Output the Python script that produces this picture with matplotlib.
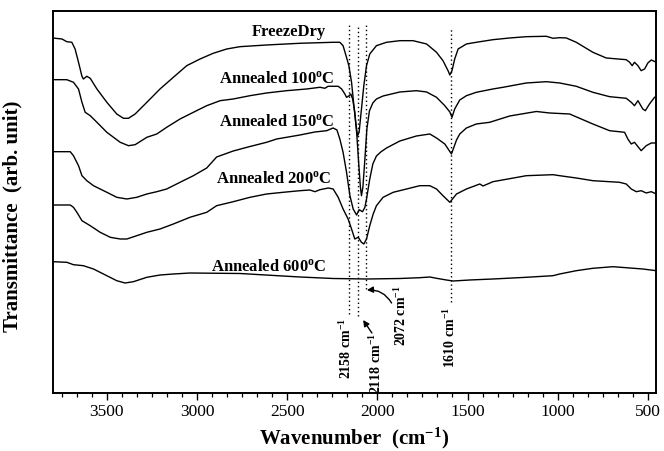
import matplotlib
matplotlib.use("Agg")
import matplotlib.pyplot as plt
from matplotlib.ticker import MultipleLocator, AutoMinorLocator

plt.rcParams['font.family'] = ['Liberation Serif', 'DejaVu Serif']
plt.rcParams['mathtext.fontset'] = 'custom'
plt.rcParams['mathtext.rm'] = 'Liberation Serif:bold'
plt.rcParams['mathtext.bf'] = 'Liberation Serif:bold'
plt.rcParams['mathtext.it'] = 'Liberation Serif:bold:italic'

# wavenumber (cm-1) and transmittance (arb. unit)
freeze_wn = [3797, 3786, 3749, 3722, 3694, 3676, 3657, 3638, 3630, 3611, 3592, 3555, 3500, 3445,
             3408, 3380, 3343, 3278, 3205, 3131, 3057, 2983, 2910, 2835, 2762, 2614, 2429, 2245,
             2208, 2190, 2171, 2158, 2143, 2130, 2119, 2110, 2101, 2088, 2075, 2060, 2042, 2005,
             1949, 1875, 1802, 1727, 1672, 1636, 1608, 1598, 1586, 1571, 1552, 1506, 1451, 1359,
             1266, 1174, 1063, 1026, 989, 952, 897, 805, 731, 620, 601, 587, 574, 555, 537, 518,
             500, 481, 453]
freeze_t = [355, 354.7, 354, 351.3, 350.7, 344, 330.7, 316.7, 314, 316.7, 314.7, 304, 290.7, 279,
            274.7, 274.7, 279, 290.7, 304, 315.7, 327.3, 334, 339.7, 344, 346.3, 348, 349.7, 350.7,
            350.7, 347.3, 335.7, 327.3, 310.7, 287.3, 269, 257, 261, 284, 307.3, 327.3, 339, 347.3,
            350.7, 352.3, 352.3, 349, 340.7, 332.3, 322.3, 318, 322.3, 334, 344, 349, 350.7, 353.3,
            355, 356.3, 356.7, 354.7, 355.3, 355, 350.7, 340.7, 335, 333.3, 330.7, 327.3, 330.7, 327.3, 322.3, 324,
            330, 333, 330.7]

a100_wn = [3797, 3722, 3685, 3657, 3638, 3620, 3592, 3555, 3500, 3426, 3380, 3343, 3278, 3223,
           3168, 3094, 3020, 2946, 2872, 2799, 2706, 2614, 2503, 2392, 2318, 2291, 2273, 2217,
           2198, 2180, 2171, 2156, 2147, 2137, 2125, 2114, 2105, 2094, 2088, 2080, 2069, 2058,
           2044, 2025, 2005, 1968, 1875, 1783, 1727, 1672, 1626, 1598, 1586, 1571, 1543, 1506,
           1451, 1359, 1303, 1174, 1063, 989, 897, 805, 712, 620, 592, 574, 555, 528, 514, 491, 463]
a100_t = [313.3, 313.3, 310.7, 304, 290.7, 280.7, 277.3, 270.7, 260.7, 250.7, 247.3, 248.3, 255.7, 259,
          265.7, 274, 280.7, 287.3, 292.3, 294, 297.3, 300, 302.3, 304, 305.7, 304.7, 306.7, 306.7,
          304, 299, 295.7, 297.3, 299, 294, 280.7, 259, 234, 206, 197.3, 206, 234, 264,
          282, 290, 294, 297, 301, 302.3, 301, 295.7, 287.3, 281, 275.7, 284, 293, 297.3,
          300.7, 304, 305.7, 310, 311.3, 310, 306.7, 300.7, 296.3, 294.7, 290.7, 287.3, 292.3, 284, 282.3, 289, 295.7]

a150_wn = [3797, 3703, 3685, 3657, 3638, 3611, 3574, 3500, 3445, 3389, 3334, 3278, 3223, 3168,
           3094, 3020, 2946, 2891, 2799, 2706, 2614, 2558, 2429, 2346, 2281, 2245, 2224, 2208,
           2190, 2171, 2152, 2134, 2115, 2101, 2082, 2069, 2060, 2042, 2025, 2005, 1981, 1949,
           1875, 1783, 1709, 1672, 1626, 1589, 1561, 1543, 1506, 1451, 1377, 1266, 1118, 1045,
           934, 805, 712, 629, 611, 592, 574, 537, 509, 481, 457]
a150_t = [241.3, 241.3, 237.3, 227.3, 217.3, 212.3, 207.3, 200.7, 195.7, 194, 195.7, 199, 201.3, 204,
          210.7, 217.3, 225, 236, 242, 246.5, 250.7, 254, 258, 261, 262.3, 265, 263, 254,
          240.7, 221, 197.3, 184, 178, 183.3, 181.3, 185.7, 194, 214, 229, 237, 241, 245,
          252, 257, 259, 255, 249, 239, 253, 259, 265, 269, 270.7, 277, 281.5, 280,
          279, 269, 262.3, 260.7, 254, 249, 250.7, 242.3, 247.3, 250, 250]

a200_wn = [3797, 3703, 3685, 3666, 3638, 3592, 3537, 3481, 3426, 3389, 3334, 3278, 3205, 3131,
           3039, 2946, 2891, 2799, 2706, 2614, 2522, 2429, 2374, 2346, 2318, 2272, 2245, 2217,
           2190, 2162, 2143, 2125, 2106, 2088, 2075, 2060, 2042, 2023, 2005, 1968, 1912, 1838,
           1765, 1709, 1672, 1636, 1598, 1561, 1506, 1432, 1414, 1359, 1174, 1026, 989, 897,
           805, 657, 620, 592, 564, 537, 509, 481, 453]
a200_t = [188, 188, 185.7, 180.7, 172.3, 167.3, 160.7, 155.7, 154, 154, 157.3, 160.7, 164, 169,
          175.7, 180.7, 187.3, 191.3, 195.7, 199, 200.7, 202.3, 203, 201.3, 203.3, 205, 204, 195.7,
          184, 174, 164, 154, 155.7, 150.7, 149, 154, 167.3, 179, 187.3, 195.7, 200.7, 204,
          207.3, 207.3, 204, 197.3, 190.7, 199, 204, 209, 207, 211.3, 217.3, 218.3, 217.3, 215,
          212.3, 210.7, 209, 204, 201.3, 202.3, 200, 201.3, 199]

a600_wn = [3797, 3722, 3685, 3630, 3574, 3500, 3445, 3399, 3353, 3278, 3205, 3131, 3039, 2762,
           2429, 2245, 2060, 1875, 1765, 1709, 1672, 1617, 1580, 1488, 1359, 1174, 1026, 989,
           897, 805, 694, 620, 528, 453]
a600_t = [131.3, 130.7, 128.3, 127.3, 124, 117.3, 112.3, 110, 111.3, 115.7, 118, 119, 120, 119.5,
          116, 114.5, 114, 114.5, 115.3, 116, 114.7, 113, 112, 113, 114, 115.7, 117.3, 119,
          122.3, 124.7, 126.3, 125.3, 124, 122.3]

# curve labels: text, right edge wavenumber, height
curve_labels = ["FreezeDry", "Annealed 100$^{\\mathrm{o}}$C", "Annealed 150$^{\\mathrm{o}}$C",
                "Annealed 200$^{\\mathrm{o}}$C", "Annealed 600$^{\\mathrm{o}}$C"]
label_wn = [2285, 2235, 2235, 2254, 2281]
label_t = [361.7, 314.7, 272.3, 215, 127.3]

# dotted peak markers
peak_wn = [2158, 2106, 2064, 1589]
peak_top = [368, 368, 368, 364]
peak_bottom = [79, 77, 104, 91]
peak_names = ["2158 cm$^{-1}$", "2118 cm$^{-1}$", "2072 cm$^{-1}$", "1610 cm$^{-1}$"]
peak_text_wn = [2171, 2005, 1866, 1598]
peak_text_t = [76, 61, 109, 87]

fig = plt.figure(figsize=(6.64, 4.52), dpi=100)
ax = fig.add_axes([0.0794, 0.1283, 0.9085, 0.8452])

for wn, t in [(freeze_wn, freeze_t), (a100_wn, a100_t), (a150_wn, a150_t),
              (a200_wn, a200_t), (a600_wn, a600_t)]:
    ax.plot(wn, t, color='black', lw=1.0)

for i in range(len(peak_wn)):
    ax.plot([peak_wn[i], peak_wn[i]], [peak_bottom[i], peak_top[i]], color='black',
            lw=1.0, linestyle=(0, (1, 2)))
    ax.text(peak_text_wn[i], peak_text_t[i], peak_names[i], rotation=90, ha='center', va='top',
            fontsize=10, fontweight='bold')

for s, w, t in zip(curve_labels, label_wn, label_t):
    ax.text(w, t, s, ha='right', va='center', fontsize=12, fontweight='bold')

# arrows pointing at 2118 and 2072
ax.annotate("", xy=(2079, 73), xytext=(2030, 60),
            arrowprops=dict(arrowstyle='-|>', color='black', lw=1.0, mutation_scale=9,
                            shrinkA=0, shrinkB=0))
ax.annotate("", xy=(2058, 103), xytext=(1921, 90),
            arrowprops=dict(arrowstyle='-|>', color='black', lw=1.0, mutation_scale=9,
                            shrinkA=0, shrinkB=0, connectionstyle="arc3,rad=0.3"))

ax.set_xlim(3800, 455)
ax.set_ylim(0, 382)
ax.xaxis.set_major_locator(MultipleLocator(500))
ax.xaxis.set_minor_locator(AutoMinorLocator(6))
ax.tick_params(axis='x', which='major', direction='out', length=5, width=1.0, labelsize=12.5, pad=2)
ax.tick_params(axis='x', which='minor', direction='out', length=3, width=0.9)
ax.set_yticks([])
for sp in ax.spines.values():
    sp.set_linewidth(1.4)

ax.set_xlabel("Wavenumber  (cm$^{-1}$)", fontsize=15, fontweight='bold')
ax.xaxis.set_label_coords(0.5, -0.084)
ax.set_ylabel("Transmittance  (arb. unit)", fontsize=15, fontweight='bold')
ax.yaxis.set_label_coords(-0.05, 0.466)

fig.savefig("out.png", dpi=100)
